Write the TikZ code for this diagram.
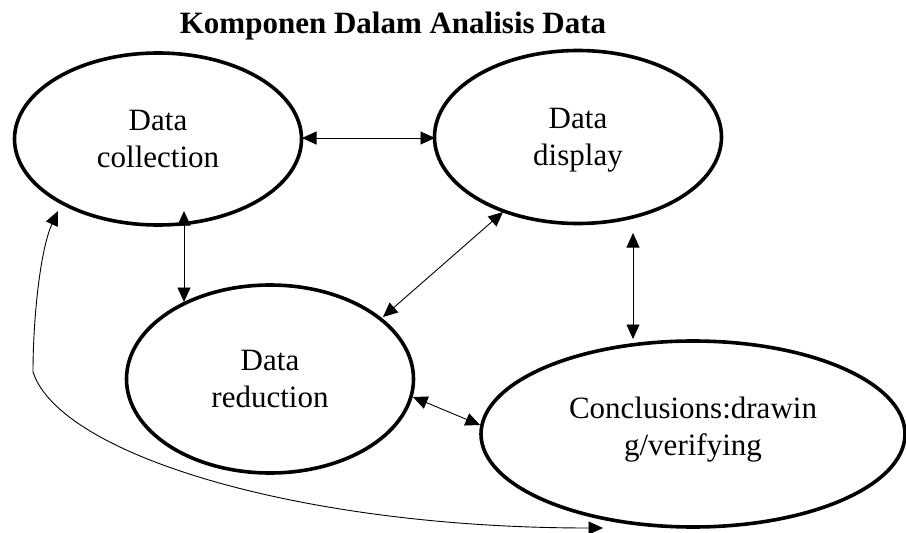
\documentclass[tikz,border=0pt]{standalone}
\usepackage{fontspec}
\setmainfont{Liberation Serif}
\usetikzlibrary{shapes.geometric,arrows.meta,calc}
\tikzset{
  oval/.style={ellipse, draw, line width=3.6pt, inner sep=0pt, align=center,
    font=\fontsize{31}{36.5}\selectfont, text depth=0pt},
  link/.style={line width=0.9pt, {Triangle[length=14.5pt,width=13pt]}-{Triangle[length=14.5pt,width=13pt]}},
}
\begin{document}
\begin{tikzpicture}[x=1pt,y=-1pt]
\useasboundingbox (0,0) rectangle (906,533);
\node[anchor=base, font=\fontsize{31}{37}\selectfont\bfseries] (title) at (393,33) {Komponen Dalam Analisis Data};
\node[oval, minimum width=287pt, minimum height=172pt] (col) at (158,139) {Data\\collection};
\node[oval, minimum width=287pt, minimum height=173pt] (disp) at (578,137) {Data\\display};
\node[oval, minimum width=287pt, minimum height=188pt] (red) at (270,379) {Data\\reduction};
\node[oval, minimum width=424pt, minimum height=186pt, text height=42pt] (conc) at (693,434) {Conclusions:drawin\\g/verifying};
% connectors
\draw[link] ($(col.center)+(144,-1)$) -- ($(disp.center)+(-143,1)$);
\draw[link] ($(col.center)+(26,72)$) -- ($(red.center)+(-86,-77)$);
\draw[link] ($(disp.center)+(-75,75)$) -- ($(red.center)+(113,-62)$);
\draw[link] ($(disp.center)+(55,96)$) -- ($(conc.center)+(-60,-95)$);
\draw[link] ($(red.center)+(143,18)$) -- ($(conc.center)+(-213,-9)$);
\coordinate (cend) at ($(conc.center)+(-90,94)$);
\coordinate (cstart) at ($(col.center)+(-100,72)$);
\draw[link] (cend) .. controls (300,528) and (60,455) .. (33,372) .. controls (33,320) and (40,250) .. (cstart);
\end{tikzpicture}
\end{document}
